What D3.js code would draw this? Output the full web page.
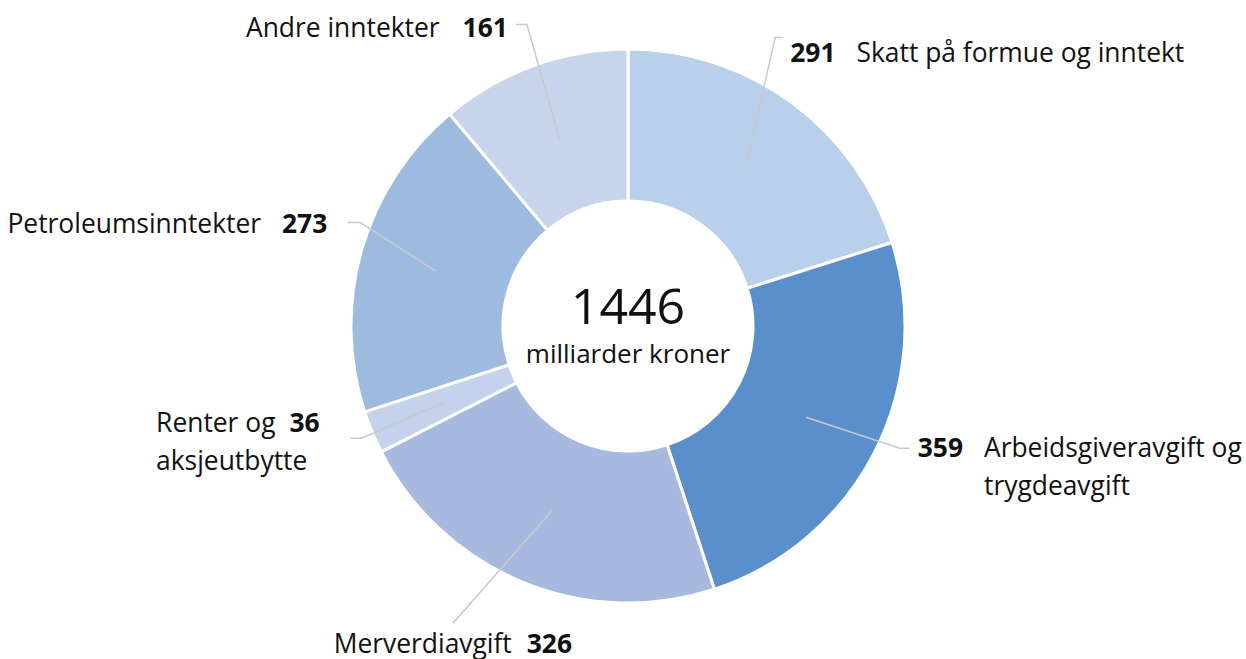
<!DOCTYPE html>
<html>
<head>
<meta charset="utf-8">
<script src="https://cdn.jsdelivr.net/npm/d3@7"></script>
<style>
  html, body { margin: 0; padding: 0; background: #fff; }
  svg text { font-family: "Open Sans", "Noto Sans", sans-serif; fill: #111; }
</style>
</head>
<body>
<div id="chart"></div>
<script>
// data
const categories = ["Skatt på formue og inntekt", "Arbeidsgiveravgift og trygdeavgift", "Merverdiavgift",
    "Renter og aksjeutbytte", "Petroleumsinntekter", "Andre inntekter"];
const labelLines = [["Skatt på formue og inntekt"], ["Arbeidsgiveravgift og", "trygdeavgift"], ["Merverdiavgift"],
    ["Renter og", "aksjeutbytte"], ["Petroleumsinntekter"], ["Andre inntekter"]];
const values = [291, 359, 326, 36, 273, 161];
const colors = ["#b9d0ea", "#5b8fcb", "#a8b9e0", "#c4d2ec", "#9cbbdf", "#c8d4eb"];
const unitLabel = "milliarder kroner";

// label placement (angle shift in degrees, elbow radius, tail length, text offsets)
const labelLayout = [
    { da: -9.2, r: 324, tail: 8, side: "right", gap: 7, gap2: 21, dy: 25 },
    { da: -2.9, r: 298, tail: 10, side: "right", gap: 8, gap2: 21, dy: 9 },
    { da: 8.1, r: 345, tail: 0, side: "below", gap: 0, gap2: 15, dy: 30 },
    { da: -0.3, r: 289, tail: -11, side: "left", gap: 31, gap2: 14, dy: -6 },
    { da: 5.2, r: 287, tail: -13, side: "left", gap: 20, gap2: 21, dy: 10 },
    { da: 1.5, r: 318, tail: -11, side: "left", gap: 8, gap2: 23, dy: 12 }
];

const width = 1246, height = 659;
const cx = 628, cy = 326;
const outerR = 277, innerR = 125, lineR = 200;
const fontSize = 26.4, lineH = 38;

const svg = d3.select("#chart").append("svg")
    .attr("width", width)
    .attr("height", height);

const g = svg.append("g").attr("transform", `translate(${cx}, ${cy})`);

const pie = d3.pie().sort(null).value(d => d);
const arcs = pie(values);

const arc = d3.arc().innerRadius(innerR).outerRadius(outerR);

g.selectAll("path.slice")
    .data(arcs)
    .join("path")
    .attr("class", "slice")
    .attr("d", arc)
    .attr("fill", (d, i) => colors[i])
    .attr("stroke", "#fff")
    .attr("stroke-width", 3);

// centre text
g.append("text")
    .attr("text-anchor", "middle")
    .attr("y", -2)
    .attr("font-size", 50)
    .text(d3.sum(values));
g.append("text")
    .attr("text-anchor", "middle")
    .attr("y", 37)
    .attr("font-size", 26)
    .text(unitLabel);

const polar = (a, r) => [Math.sin(a) * r, -Math.cos(a) * r];
const rad = deg => deg * Math.PI / 180;

arcs.forEach((d, i) => {
    const L = labelLayout[i];
    const mid = (d.startAngle + d.endAngle) / 2;
    const p0 = polar(mid, lineR);
    const p1 = polar(mid + rad(L.da), L.r);
    const p2 = [p1[0] + L.tail, p1[1]];

    g.append("path")
        .attr("d", d3.line()([p0, p1, p2]))
        .attr("fill", "none")
        .attr("stroke", "#c9c9c9")
        .attr("stroke-width", 1.5);

    const lg = g.append("g");
    const valText = lg.append("text")
        .attr("font-size", fontSize)
        .attr("font-weight", 700)
        .text(values[i]);
    const vw = valText.node().getComputedTextLength();
    const nameText = lg.append("text").attr("font-size", fontSize);
    const tspans = labelLines[i].map((s, k) => nameText.append("tspan").text(s));
    const nw = tspans.map(t => t.node().getComputedTextLength());
    const baseY = p1[1] + L.dy;

    let valX, nameX;
    if (L.side === "right") {
        valX = p2[0] + L.gap;
        nameX = valX + vw + L.gap2;
    } else if (L.side === "left") {
        valX = p2[0] - L.gap - vw;
        nameX = valX - L.gap2 - nw[0];
    } else {
        const total = nw[0] + L.gap2 + vw;
        nameX = p1[0] - total / 2;
        valX = nameX + nw[0] + L.gap2;
    }
    valText.attr("x", valX).attr("y", baseY);
    tspans.forEach((t, k) => t.attr("x", nameX).attr("y", baseY + k * lineH));
});
</script>
</body>
</html>
